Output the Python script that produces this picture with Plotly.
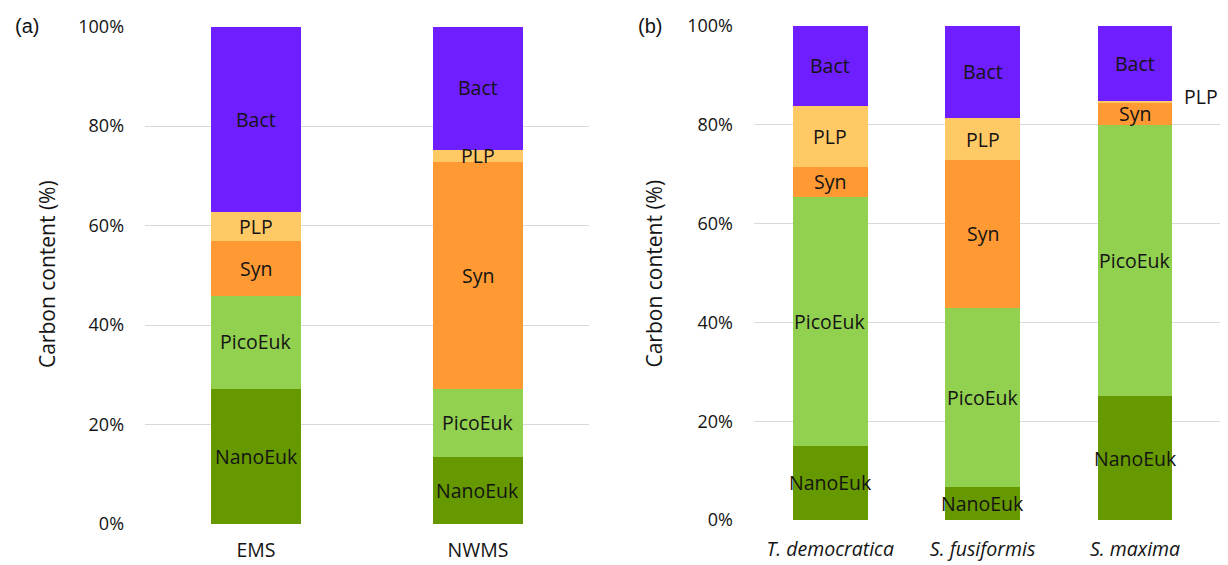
import plotly.graph_objects as go

# ---- data ----------------------------------------------------------------
groups = ["NanoEuk", "PicoEuk", "Syn", "PLP", "Bact"]
colors = ["#669900", "#92D050", "#FF9933", "#FFCA66", "#6F1FFF"]

sites_a = ["EMS", "NWMS"]
nanoeuk_a = [27.3, 13.5]
picoeuk_a = [18.6, 13.8]
syn_a = [11.0, 45.5]
plp_a = [5.9, 2.5]
bact_a = [37.2, 24.7]

species_b = ["T. democratica", "S. fusiformis", "S. maxima"]
nanoeuk_b = [15.0, 6.6, 25.1]
picoeuk_b = [50.4, 36.4, 54.8]
syn_b = [6.1, 29.8, 4.6]
plp_b = [12.4, 8.6, 0.4]
bact_b = [16.1, 18.6, 15.1]

ytick_vals = [0, 20, 40, 60, 80, 100]
ytick_text = [f"{v}%" for v in ytick_vals]

series_a = [nanoeuk_a, picoeuk_a, syn_a, plp_a, bact_a]
series_b = [nanoeuk_b, picoeuk_b, syn_b, plp_b, bact_b]

FONT = "'Open Sans', 'Noto Sans', sans-serif"
TXT = "#141414"

fig = go.Figure()

annotations = []


def add_panel(cats, series, xa, ya, width):
    base = [0.0] * len(cats)
    for name, col, vals in zip(groups, colors, series):
        fig.add_trace(go.Bar(
            x=cats, y=vals, name=name, marker_color=col,
            marker_line_width=0, width=width,
            xaxis=xa, yaxis=ya, showlegend=False,
        ))
        for i, v in enumerate(vals):
            mid = base[i] + v / 2
            label = dict(
                x=cats[i], y=mid, xref=xa, yref=ya, text=name,
                showarrow=False, xanchor="center", yanchor="middle",
                font=dict(family=FONT, size=19.5, color=TXT))
            if v < 1:
                # too thin to hold its label: write it beside the bar
                label.update(xshift=66, yshift=5)
            annotations.append(label)
            base[i] += v


add_panel(sites_a, series_a, "x", "y", 0.405)
add_panel(species_b, series_b, "x2", "y2", 0.49)

yaxis_common = dict(
    range=[0, 100], tickmode="array", tickvals=ytick_vals, ticktext=ytick_text,
    showgrid=True, gridcolor="#D9D9D9", gridwidth=1,
    zeroline=False, showline=False, ticks="", automargin=False,
    ticklabelstandoff=20,
    tickfont=dict(family=FONT, size=18, color=TXT),
)
xaxis_common = dict(
    showgrid=False, zeroline=False, showline=False, ticks="", automargin=False,
    tickfont=dict(family=FONT, size=19.5, color=TXT),
)

fig.update_layout(
    width=1228, height=565,
    margin=dict(l=0, r=0, t=0, b=0),
    paper_bgcolor="white", plot_bgcolor="white",
    barmode="stack", bargap=0,
    xaxis=dict(domain=[0.1181, 0.4796], anchor="y", ticklabelstandoff=13,
               **xaxis_common),
    yaxis=dict(domain=[0.0726, 0.953], anchor="x", **yaxis_common),
    xaxis2=dict(domain=[0.614, 0.9935], anchor="y2", ticklabelstandoff=15,
                tickmode="array", tickvals=species_b,
                ticktext=[f"<i>{s}</i>" for s in species_b],
                **xaxis_common),
    yaxis2=dict(domain=[0.0796, 0.954], anchor="x2", **yaxis_common),
)

# axis titles and panel tags
for xpos, ymid in [(0.0383, 0.515), (0.533, 0.515)]:
    annotations.append(dict(
        x=xpos, y=ymid, xref="paper", yref="paper", text="Carbon content (%)",
        textangle=-90, showarrow=False, xanchor="center", yanchor="middle",
        font=dict(family=FONT, size=21, color=TXT)))
for xpos, tag in [(0.022, "(a)"), (0.529, "(b)")]:
    annotations.append(dict(
        x=xpos, y=0.954, xref="paper", yref="paper", text=tag,
        showarrow=False, xanchor="center", yanchor="middle",
        font=dict(family="'Liberation Sans', Arial, sans-serif", size=20,
                  color=TXT)))

fig.update_layout(annotations=annotations)

fig.write_html("out.html")
